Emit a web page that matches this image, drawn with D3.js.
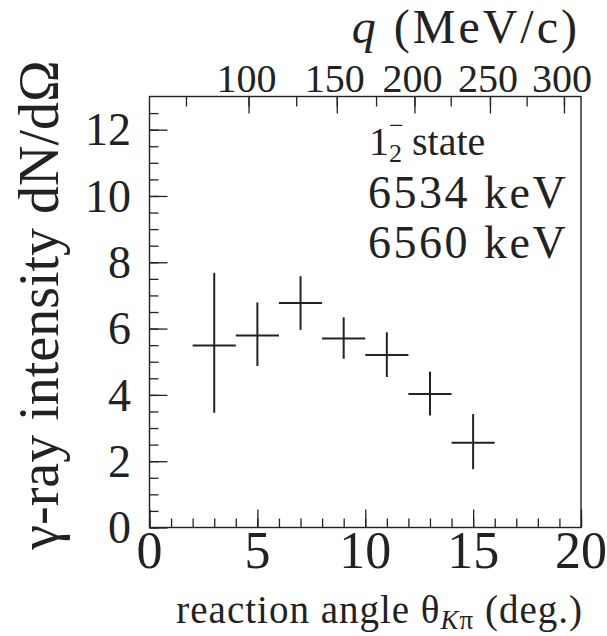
<!DOCTYPE html>
<html>
<head>
<meta charset="utf-8">
<script src="https://cdn.jsdelivr.net/npm/d3@7"></script>
<style>
  body { margin: 0; background: #fff; }
  svg text { font-family: "Liberation Serif", "Times New Roman", serif; fill: #222; }
</style>
</head>
<body>
<svg id="chart" width="607" height="636"></svg>
<script>
// data
var angles = [3, 5, 7, 9, 11, 13, 15];            // bin centre, deg
var binHalf = [1, 1, 1, 1, 1, 1, 1];              // half bin width
var intensity = [5.49, 5.79, 6.77, 5.70, 5.20, 4.03, 2.56];
var errLow  = [2.03, 0.92, 0.81, 0.61, 0.66, 0.65, 0.80];
var errHigh = [2.19, 1.00, 0.81, 0.64, 0.69, 0.67, 0.86];

// upper axis: momentum transfer q vs angle
var qTicks  = [75, 100, 125, 150, 175, 200, 225, 250, 275, 300];
var qAngles = [1.69, 4.59, 6.80, 8.68, 10.50, 12.28, 13.96, 15.78, 17.48, 19.21];
var qLabels = [100, 150, 200, 250, 300];

var xTicks = [0, 5, 10, 15, 20];
var yTicks = [0, 2, 4, 6, 8, 10, 12];

// (window.top is read-only, so keep the frame edges in their own names)
var pL = 149.5, pR = 581, pT = 96.5, pB = 527.5;

var svg = d3.select('#chart');
var x = d3.scaleLinear().domain([0, 20]).range([pL, pR]);
var y = d3.scaleLinear().domain([0, 13]).range([pB, pT]);
var q = d3.scaleLinear().domain(qTicks).range(qAngles.map(function(a){ return x(a); }));

var ink = '#222';

// frame
svg.append('rect')
  .attr('x', pL).attr('y', pT)
  .attr('width', pR - pL).attr('height', pB - pT)
  .attr('fill', 'none').attr('stroke', ink).attr('stroke-width', 1.4);

function drawTicks(g){ g.select('.domain').remove(); g.selectAll('line').attr('stroke', ink).attr('stroke-width', 1.3); g.selectAll('text').remove(); }

// bottom axis: minor every 1, major every 5
svg.append('g').attr('transform', 'translate(0,' + pB + ')')
  .call(d3.axisTop(x).tickValues(d3.range(0, 21, 1)).tickSize(9))
  .call(drawTicks);
svg.append('g').attr('transform', 'translate(0,' + pB + ')')
  .call(d3.axisTop(x).tickValues(xTicks).tickSize(18))
  .call(drawTicks);

// left axis: minor every 0.5, major every 2
svg.append('g').attr('transform', 'translate(' + pL + ',0)')
  .call(d3.axisRight(y).tickValues(d3.range(0, 13, 0.5)).tickSize(9))
  .call(drawTicks);
svg.append('g').attr('transform', 'translate(' + pL + ',0)')
  .call(d3.axisRight(y).tickValues(yTicks).tickSize(18))
  .call(drawTicks);

// top axis (q)
svg.append('g').attr('transform', 'translate(0,' + pT + ')')
  .call(d3.axisBottom(q).tickValues(qTicks).tickSize(10))
  .call(drawTicks);
svg.append('g').attr('transform', 'translate(0,' + pT + ')')
  .call(d3.axisBottom(q).tickValues(qLabels).tickSize(17))
  .call(drawTicks);

// tick labels
svg.selectAll('.xl').data(xTicks).enter().append('text')
  .attr('x', function(d){ return x(d); }).attr('y', 568)
  .attr('text-anchor', 'middle').style('font-size', '52px')
  .text(function(d){ return d; });

svg.selectAll('.yl').data(yTicks).enter().append('text')
  .attr('x', 131).attr('y', function(d){ return y(d); }).attr('dy', '0.34em')
  .attr('text-anchor', 'end').style('font-size', '46px')
  .text(function(d){ return d; });

svg.selectAll('.ql').data(qLabels).enter().append('text')
  .attr('x', function(d){ return q(d) - 2; }).attr('y', 92)
  .attr('text-anchor', 'middle').style('font-size', '40px')
  .text(function(d){ return d; });

// axis titles
var tq = svg.append('text').attr('x', 580).attr('y', 43)
  .attr('text-anchor', 'end').style('font-size', '48px').style('letter-spacing', '3px');
tq.append('tspan').style('font-style', 'italic').text('q');
tq.append('tspan').text(' (MeV/c)');

var tx = svg.append('text').attr('x', 583).attr('y', 623)
  .attr('text-anchor', 'end').style('font-size', '39px').style('letter-spacing', '1px');
tx.append('tspan').text('reaction angle θ');
tx.append('tspan').attr('dy', 6).style('font-size', '27px').style('font-style', 'italic').text('K');
tx.append('tspan').style('font-size', '27px').text('π');
tx.append('tspan').attr('dy', -6).text(' (deg.)');

svg.append('text')
  .attr('transform', 'translate(58,305) rotate(-90)')
  .attr('text-anchor', 'middle').style('font-size', '56px')
  .text('γ-ray intensity dN/dΩ');

// legend text
var l1 = svg.append('text').attr('x', 369).attr('y', 155).style('font-size', '40px');
l1.append('tspan').text('1');
l1.append('tspan').attr('dy', 7).style('font-size', '26px').text('2');
l1.append('tspan').attr('dy', -7).text(' state');
var oneW = l1.select('tspan').node().getComputedTextLength();
svg.append('text').attr('x', 369 + oneW).attr('y', 134).style('font-size', '26px').text('−');

svg.append('text').attr('x', 368).attr('y', 208).style('font-size', '46px').style('letter-spacing', '2.5px').text('6534 keV');
svg.append('text').attr('x', 368).attr('y', 258).style('font-size', '46px').style('letter-spacing', '2.5px').text('6560 keV');

// data crosses
var pts = svg.append('g').selectAll('g').data(angles).enter().append('g');
pts.append('line')
  .attr('x1', function(d, i){ return x(d - binHalf[i]); })
  .attr('x2', function(d, i){ return x(d + binHalf[i]); })
  .attr('y1', function(d, i){ return y(intensity[i]); })
  .attr('y2', function(d, i){ return y(intensity[i]); })
  .attr('stroke', ink).attr('stroke-width', 2);
pts.append('line')
  .attr('x1', function(d){ return x(d); })
  .attr('x2', function(d){ return x(d); })
  .attr('y1', function(d, i){ return y(intensity[i] - errLow[i]); })
  .attr('y2', function(d, i){ return y(intensity[i] + errHigh[i]); })
  .attr('stroke', ink).attr('stroke-width', 2);
</script>
</body>
</html>
